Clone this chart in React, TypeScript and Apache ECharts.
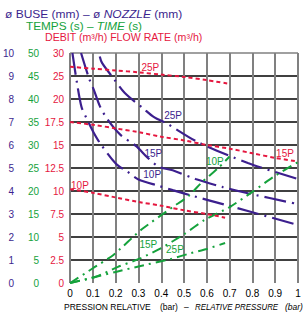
import React, { useEffect, useRef } from 'react';
import * as echarts from 'echarts';

// ---- tick labels ----
const xTickLabels = ['0', '0.1', '0.2', '0.3', '0.4', '0.5', '0.6', '0.7', '0.8', '0.9', '1'];
const nozzleTickLabels = ['0', '1', '2', '3', '4', '5', '6', '7', '8', '9', '10'];
const timeTickLabels = ['0', '5', '10', '15', '20', '25', '30', '35', '40', '45', '50'];
const flowTickLabels = ['0', '2.5', '5', '7.5', '10', '12.5', '15', '17.5', '20', '25', '30'];

// ---- nozzle diameter (mm) vs relative pressure (bar) ----
const nozzle10P: [number, number][] = [
  [0.01, 10], [0.03, 8.7], [0.05, 7.65], [0.07, 7.2], [0.1, 6.6], [0.13, 6.1], [0.2, 5.2],
  [0.25, 4.85], [0.3, 4.5], [0.39, 4.22], [0.45, 4.04], [0.54, 3.78], [0.67, 3.43], [0.78, 3.13], [1.0, 2.52],
];
const nozzle15P: [number, number][] = [
  [0.048, 10], [0.083, 8.9], [0.104, 8.4], [0.13, 7.7], [0.165, 7.1], [0.22, 6.45], [0.29, 5.95],
  [0.34, 5.45], [0.39, 5.05], [0.45, 4.9], [0.55, 4.52], [0.67, 4.17], [0.78, 3.9], [1.0, 3.43],
];
const nozzle25P: [number, number][] = [
  [0.13, 9.85], [0.14, 9.57], [0.19, 8.9], [0.24, 8.26], [0.32, 7.6], [0.37, 7.2], [0.42, 6.96],
  [0.56, 6.13], [0.78, 5.22], [1.0, 4.52],
];

// ---- time (s) vs relative pressure (bar) ----
const time10P: [number, number][] = [
  [0, 0], [0.1, 3.2], [0.19, 6.1], [0.31, 11.5], [0.45, 16.5], [0.52, 18.9], [0.58, 22], [0.65, 25], [0.7, 27.5],
];
const time15P: [number, number][] = [
  [0, 0], [0.11, 1.3], [0.21, 3.5], [0.31, 5.4], [0.4, 7.6], [0.5, 10.6], [0.59, 13.7], [0.7, 16.5],
  [0.8, 19.8], [0.89, 23], [1.0, 26.3],
];
const time25P: [number, number][] = [
  [0, 0], [0.1, 1.2], [0.2, 2.4], [0.3, 3.6], [0.44, 5.2], [0.53, 6.5], [0.6, 7.4], [0.68, 8.7],
];

// ---- flow rate (m3/h) vs relative pressure (bar) ----
const flow10P: [number, number][] = [
  [0, 10.2], [0.1, 9.8], [0.2, 9.3], [0.3, 8.8], [0.4, 8.4], [0.5, 7.9], [0.6, 7.5], [0.68, 7.1],
];
const flow15P: [number, number][] = [
  [0, 17.5], [0.1, 17.2], [0.2, 16.8], [0.3, 16.4], [0.4, 15.9], [0.5, 15.5], [0.6, 15.0], [0.7, 14.6],
  [0.8, 14.1], [0.9, 13.6], [1.0, 13.2],
];
const flow25P: [number, number][] = [
  [0, 27.0], [0.1, 26.6], [0.2, 26.2], [0.3, 25.8], [0.4, 25.3], [0.5, 24.8], [0.6, 24.1], [0.7, 23.3],
];

const PURPLE = '#3c1f8e';
const GREEN = '#15a23c';
const RED = '#e5173f';
const FONT = 'Liberation Sans, Arial, sans-serif';

// flow-rate axis is piecewise: 0..20 in steps of 2.5, then 25, 30
const flowToGrid = (v: number) => (v <= 20 ? v / 2.5 : 8 + (v - 20) / 5);

const lbl = (text: string, color: string, coord: [number, number]) => ({
  symbol: 'rect',
  symbolSize: 1,
  itemStyle: { color: 'rgba(0,0,0,0)' },
  label: { show: true, position: 'inside', formatter: text, color, fontSize: 10, fontFamily: FONT },
  data: [{ coord }],
});

const txt = (text: string, x: number, y: number, fill: string, fontSize: number, scaleX: number, italic = false, rich?: any) => ({
  type: 'text',
  x,
  y,
  scaleX,
  style: {
    text,
    fill,
    fontSize,
    fontFamily: FONT,
    fontStyle: italic ? 'italic' : 'normal',
    verticalAlign: 'middle',
    textVerticalAlign: 'middle',
    rich,
  },
});

export default function App() {
  const ref = useRef<HTMLDivElement>(null);
  useEffect(() => {
    if (!ref.current) return;
    const chart = echarts.init(ref.current, undefined, { renderer: 'svg' });
    const hColors = nozzleTickLabels.map((_, i) => (i === 0 ? 'rgba(0,0,0,0)' : i === 10 ? '#808080' : '#000'));
    const baseY = {
      type: 'value' as const,
      position: 'left' as const,
      min: 0,
      max: 10,
      interval: 1,
      axisLine: { show: false },
      axisTick: { show: false },
    };
    const purpleDash = [22, 6, 2, 6];
    const greenDash = [10, 5, 2, 5];
    const redDash = [4, 3];
    const mkLine = (data: [number, number][], yAxisIndex: number, color: string, dash: number[], width: number, smooth: number, mp: any) => ({
      type: 'line',
      yAxisIndex,
      data,
      showSymbol: false,
      symbol: 'none',
      smooth,
      lineStyle: { color, width, type: dash },
      markPoint: mp,
      silent: true,
    });
    const richP = {
      a: { fill: PURPLE, color: PURPLE, fontSize: 10, fontFamily: FONT },
      i: { fill: PURPLE, color: PURPLE, fontSize: 10, fontFamily: FONT, fontStyle: 'italic' },
    };
    const richG = {
      a: { fill: GREEN, color: GREEN, fontSize: 10, fontFamily: FONT },
      i: { fill: GREEN, color: GREEN, fontSize: 10, fontFamily: FONT, fontStyle: 'italic' },
    };
    chart.setOption({
      animation: false,
      grid: { left: 68, right: 6, top: 53, bottom: 29, containLabel: false },
      xAxis: {
        type: 'value',
        min: 0,
        max: 1,
        interval: 0.1,
        axisLine: { show: false },
        axisTick: { show: false },
        axisLabel: {
          margin: 5,
          color: '#000',
          fontSize: 10,
          fontFamily: FONT,
          formatter: (v: number) => xTickLabels[Math.round(v * 10)] ?? '',
        },
        splitLine: { show: true, lineStyle: { color: '#808080', width: 2 } },
      },
      yAxis: [
        {
          ...baseY,
          offset: 48,
          axisLabel: { margin: 8, color: PURPLE, fontSize: 10, fontFamily: FONT, formatter: (v: number) => nozzleTickLabels[Math.round(v)] ?? '' },
          splitLine: { show: true, lineStyle: { color: hColors, width: 1.5 } },
        },
        {
          ...baseY,
          max: 50,
          interval: 5,
          offset: 23,
          axisLabel: { margin: 8, color: GREEN, fontSize: 10, fontFamily: FONT, formatter: (v: number) => timeTickLabels[Math.round(v / 5)] ?? '' },
          splitLine: { show: false },
        },
        {
          ...baseY,
          offset: 0,
          axisLabel: { margin: 6, color: RED, fontSize: 10, fontFamily: FONT, formatter: (v: number) => flowTickLabels[Math.round(v)] ?? '' },
          splitLine: { show: false },
        },
      ],
      series: [
        mkLine(nozzle10P, 0, PURPLE, purpleDash, 2.2, 0.3, lbl('10P', PURPLE, [0.36, 4.7])),
        mkLine(nozzle15P, 0, PURPLE, purpleDash, 2.2, 0.3, lbl('15P', PURPLE, [0.365, 5.65])),
        mkLine(nozzle25P, 0, PURPLE, purpleDash, 2.2, 0.3, lbl('25P', PURPLE, [0.452, 7.3])),
        mkLine(time10P, 1, GREEN, greenDash, 2, 0.2, lbl('10P', GREEN, [0.635, 26.5])),
        mkLine(time15P, 1, GREEN, greenDash, 2, 0.2, lbl('15P', GREEN, [0.343, 8.3])),
        mkLine(time25P, 1, GREEN, greenDash, 2, 0.2, lbl('25P', GREEN, [0.46, 7.2])),
        mkLine(flow10P.map(([x, v]) => [x, flowToGrid(v)] as [number, number]), 2, RED, redDash, 2, 0.3, lbl('10P', RED, [0.043, 4.26])),
        mkLine(flow15P.map(([x, v]) => [x, flowToGrid(v)] as [number, number]), 2, RED, redDash, 2, 0.3, lbl('15P', RED, [0.943, 5.65])),
        mkLine(flow25P.map(([x, v]) => [x, flowToGrid(v)] as [number, number]), 2, RED, redDash, 2, 0.3, lbl('25P', RED, [0.352, 9.39])),
      ],
      graphic: [
        txt('{a|ø BUSE (mm) – ø }{i|NOZZLE}{a| (mm)}', 5, 14, PURPLE, 10, 1.2, false, richP),
        txt('{a|TEMPS (s) – }{i|TIME}{a| (s)}', 26, 26, GREEN, 10, 1.18, false, richG),
        txt('DEBIT (m³/h) FLOW RATE (m³/h)', 45, 38, RED, 10, 1.06),
        txt('PRESSION RELATIVE', 64, 307, '#000', 8.5, 1.0),
        txt('(bar)', 160, 307, '#000', 8.5, 1.0),
        txt('–', 184, 307, '#000', 8.5, 1.0),
        txt('RELATIVE PRESSURE', 195, 307, '#000', 8.5, 0.93, true),
        txt('(bar)', 285, 307, '#000', 8.5, 1.0, true),
      ],
    });
    return () => chart.dispose();
  }, []);
  return <div ref={ref} style={{ position: 'fixed', left: 0, top: 0, width: 304, height: 312, background: '#fff' }} />;
}
